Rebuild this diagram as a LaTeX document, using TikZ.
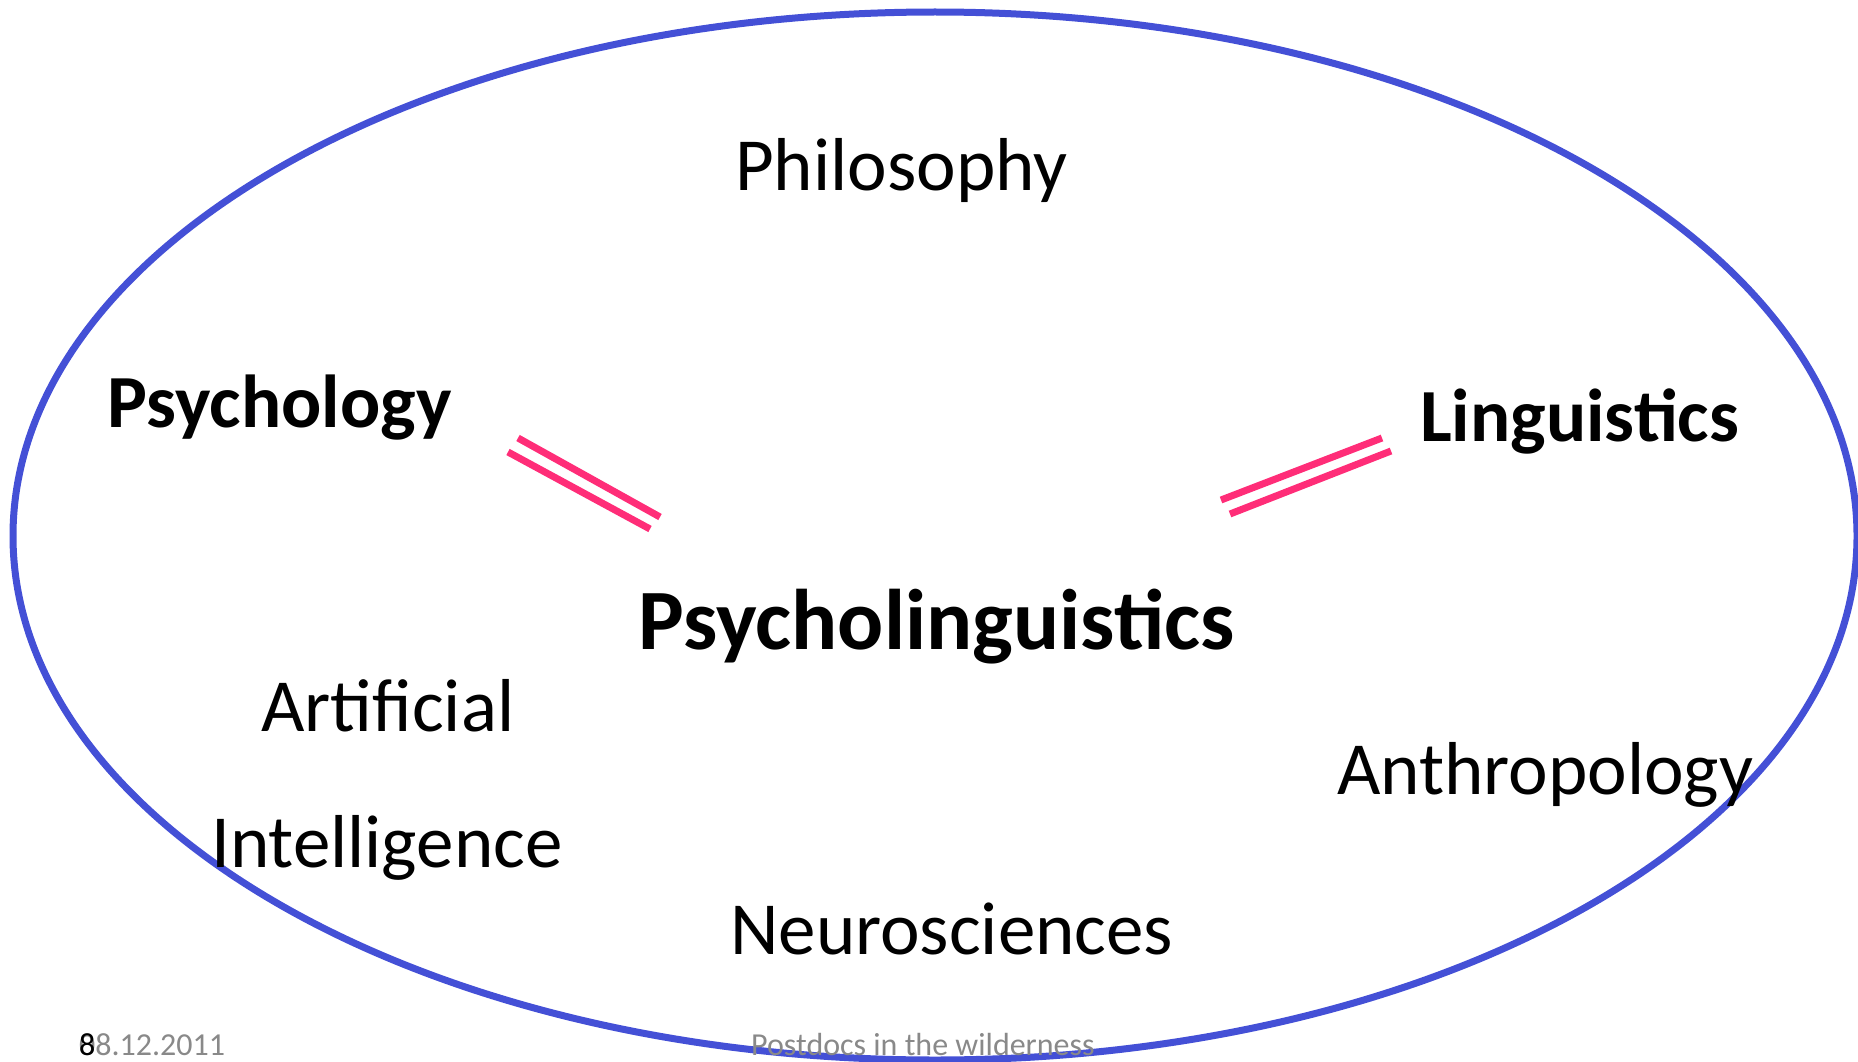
\documentclass[tikz,border=0pt]{standalone}
\usepackage{fontspec}
\setmainfont{Carlito}
\definecolor{bleuell}{RGB}{68,80,214}
\definecolor{rose}{RGB}{255,45,120}
\definecolor{grispied}{RGB}{137,137,137}

\begin{document}
\begin{tikzpicture}[x=1pt, y=-1pt]
\tikzset{discnoeud/.style={anchor=base west, inner sep=0pt, font=\fontsize{75}{90}\selectfont}}
\tikzset{grasnoeud/.style={discnoeud, font=\fontsize{75}{90}\selectfont\bfseries}}
\tikzset{piednoeud/.style={anchor=base west, inner sep=0pt, text=grispied, font=\fontsize{32}{38}\selectfont}}
\tikzset{egal/.style={draw=rose, line width=7pt}}
\useasboundingbox (0,0) rectangle (1858,1062);
\draw[bleuell, line width=7pt] (935,536) ellipse [x radius=922, y radius=524];
\node[discnoeud] (Philo) at (735,190) {Philosophy};
\node[grasnoeud] (Psycho) at (107,427) {Psychology};
\node[grasnoeud] (Ling) at (1420,441) {Linguistics};
\node[discnoeud, font=\fontsize{86}{103}\selectfont\bfseries] (PsyLing) at (638,649) {Psycholinguistics};
\node[discnoeud] (Artif) at (261,731) {Artificial};
\node[discnoeud] (Intel) at (211,867) {Intelligence};
\node[discnoeud] (Anthro) at (1337,794) {Anthropology};
\node[discnoeud] (Neuro) at (730,954) {Neurosciences};
\node[piednoeud] (Date) at (79,1055) {08.12.2011};
\node[piednoeud, text=black] (Num) at (79,1055) {8};
\node[piednoeud] (Titre) at (751,1055) {Postdocs in the wilderness};
% les deux signes egal
\coordinate (G1) at (518,438);
\coordinate (G2) at (660,517);
\coordinate (G3) at (508,452);
\coordinate (G4) at (650,529);
\coordinate (D1) at (1221,500);
\coordinate (D2) at (1382,438);
\coordinate (D3) at (1230,514);
\coordinate (D4) at (1391,451);
\draw[egal] (G1) -- (G2);
\draw[egal] (G3) -- (G4);
\draw[egal] (D1) -- (D2);
\draw[egal] (D3) -- (D4);
\end{tikzpicture}
\end{document}
